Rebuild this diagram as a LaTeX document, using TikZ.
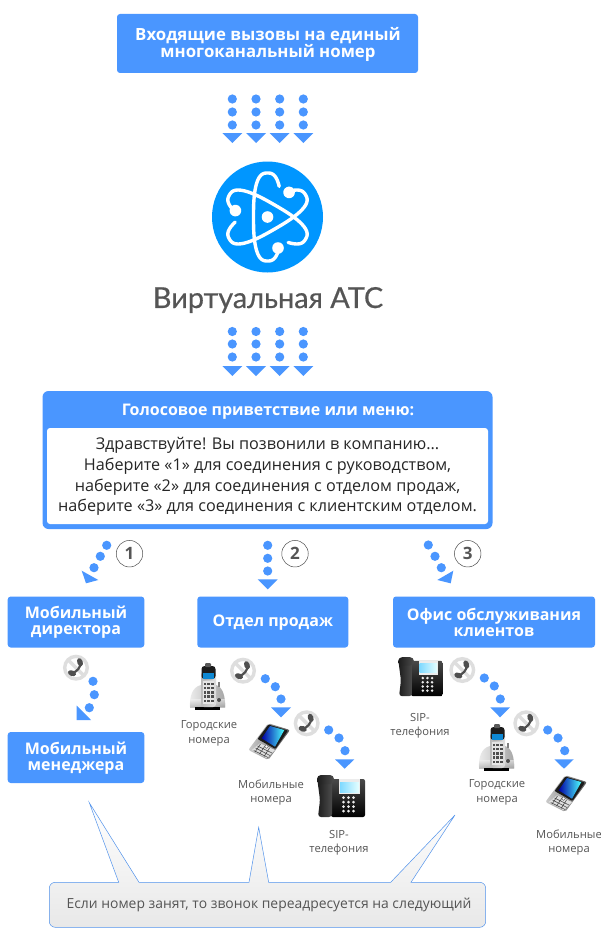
\documentclass[tikz,border=0pt]{standalone}
\usepackage{fontspec}
\setmainfont{Open Sans}
\newfontfamily\logofont[FakeBold=0.5]{Lato}
\definecolor{flowblue}{HTML}{4A96FF}
\definecolor{logoblue}{HTML}{0096FF}
\definecolor{inktext}{HTML}{262626}
\definecolor{greytext}{HTML}{555555}
\definecolor{ringgrey}{HTML}{DEDEDE}
\definecolor{iconink}{HTML}{4F4F4F}
\definecolor{phoneblack}{HTML}{1C1C1C}
\tikzset{
  x=1pt,y=-1pt,
  bluebox/.style={fill=flowblue,rounded corners=3pt,inner sep=0pt},
  boxlabel/.style={text=white,align=center,inner sep=0pt,font=\fontsize{16}{16}\selectfont\bfseries},
  greetline/.style={align=center,inner sep=0pt,text=inktext,font=\fontsize{16.2}{20.7}\selectfont},
  smalllabel/.style={align=center,inner sep=0pt,text=greytext,font=\fontsize{11.2}{14.5}\selectfont},
  numcircle/.style={circle,draw=iconink,line width=0.5pt,minimum size=26.5pt,inner sep=0pt,
     text=greytext,font=\fontsize{17}{17}\selectfont\bfseries},
  flow/.style={fill=flowblue},
  pics/busy/.style={code={
    \draw[ringgrey,line width=3.4pt,fill=white] (0,0) circle[radius=11.3pt];
    \draw[ringgrey,line width=3.4pt] (-8,-8) -- (8,8);
    \draw[iconink,line width=2.2pt] (4.5,-5) .. controls (4.5,0) and (1,4) .. (-4,5.5);
    \fill[iconink,rotate around={20:(4,-5.5)}] (4,-5.5) ellipse[x radius=2.8pt,y radius=4.2pt];
    \fill[iconink,rotate around={70:(-4,5.5)}] (-4,5.5) ellipse[x radius=2.8pt,y radius=4.2pt];
  }},
  pics/cordless/.style={code={
    \shade[left color=gray!15,right color=gray!70] (0,44) .. controls (-0.5,34) and (2,24) .. (11,22) -- (26,22)
       .. controls (33,24) and (35.5,34) .. (35,44) -- cycle;
    \shade[top color=gray!10,bottom color=gray!75,opacity=.6] (0,36) rectangle (35,44);
    \fill[black] (5,44) rectangle (30,47);
    \draw[gray,line width=1.2pt] (29,24) -- (29,19);
    \fill[iconink] (29,37) circle[radius=2pt];
    \shade[left color=gray!55,right color=gray!25,rounded corners=3pt] (11,9) rectangle (26,44);
    \fill[phoneblack,rounded corners=3pt] (11.5,3) rectangle (25.5,16);
    \fill[gray!70!black,rounded corners=1pt] (15,0) rectangle (21,4);
    \fill[cyan!70!blue] (13,10) rectangle (24,16);
    \fill[white!80!gray] (13,18) rectangle (24,41);
    \foreach \k in {0,1,2,3,4}{\foreach \j in {0,1,2}{\fill[iconink] (13.8+\j*3.6,19.5+\k*4.3) rectangle ++(2.6,2.4);}}
  }},
  pics/mobilephone/.style={code={
    \shade[left color=gray!40,right color=gray!70!black,rounded corners=2pt] (20.3,3.3) -- (42,10) -- (20.3,40) -- (0.3,30) -- cycle;
    \fill[phoneblack,rounded corners=1pt] (20.5,4.5) -- (40,10.5) -- (27.5,29) -- (9.5,19) -- cycle;
    \shade[left color=blue!65!black,right color=cyan!70!white] (22,6) -- (36.3,10) -- (27,26.7) -- (13.7,18.3) -- cycle;
    \fill[gray!25] (12,23.3) -- (27,30) -- (18.7,38.3) -- (3.7,30) -- cycle;
    \draw[gray!60!black,line width=0.6pt] (9.5,26) -- (24,33) (7.5,28) -- (22,35.5) (5.8,30.5) -- (20,37.5) (12.5,24) -- (7,32) (17,26) -- (11.5,34) (21.5,28) -- (16,36.5);
    \fill[white,draw=gray!60!black,line width=.4pt] (18.5,26.5) circle[radius=1.8pt];
  }},
  pics/deskphone/.style={code={
    \shade[top color=phoneblack!80,bottom color=black,rounded corners=2pt] (19,9) rectangle (53,47);
    \shade[left color=phoneblack,right color=gray!60!black,rounded corners=3pt] (5,7) -- (20,7) -- (20,47) -- (6,47) -- (8,30) -- cycle;
    \shade[left color=phoneblack,right color=gray!60!black,rounded corners=4pt] (5,5) rectangle (22,14);
    \fill[white!85!gray] (27,9) rectangle (48,24);
    \shade[left color=blue!30!cyan!50!white,right color=cyan!10!white] (28,12) rectangle (47,22);
    \foreach \k in {0,1,2,3}{\foreach \j in {0,1,2}{\fill[white!85!gray] (31.5+\j*5,27.5+\k*4.5) circle[radius=1.5pt];}}
  }},
  pics/orbit/.style={code={
    \draw[white,line width=3.4pt,line cap=round] plot[domain=-224:52,samples=90]
      ({44*sign(cos(\x))*(abs(cos(\x))+0.0001)^0.75},{14*sign(sin(\x))*(abs(sin(\x))+0.0001)^0.75});
    \fill[white] (-31,10.5) circle[radius=5.8pt];
  }},
}
\newcommand{\dotflow}[6]{%
  \fill[flow] #1 circle[radius=4.6pt] #2 circle[radius=4.6pt] #3 circle[radius=4.6pt];
  \fill[flow] #4 -- #5 -- #6 -- cycle;}
\begin{document}
\begin{tikzpicture}
\path[use as bounding box,fill=white] (0,0) rectangle (600,942);

% top box
\node[bluebox,minimum width=301pt,minimum height=59pt] (incoming) at (267.5,43.5) {};
\node[boxlabel,font=\fontsize{16.8}{16.5}\selectfont\bfseries] (incomingtext) at (268,44.5) {Входящие вызовы на единый\\многоканальный номер};

\foreach \x in {232.3,256,279.7,303.3}{
  \dotflow{(\x,99)}{(\x,112)}{(\x,125)}{(\x-10,133)}{(\x+10,133)}{(\x,143)}
  \dotflow{(\x,331.5)}{(\x,344)}{(\x,357)}{(\x-10,366)}{(\x+10,366)}{(\x,376)}
}

% logo
\node[circle,fill=logoblue,minimum size=111pt,inner sep=0pt] (logo) at (267.5,217) {};
\foreach \r in {90,210,-30}{
  \pic[shift={(logo.center)},rotate=\r] {orbit};
}
\fill[white] (logo.center) circle[radius=5.8pt];
\node[inner sep=0pt,text=greytext,font=\fontsize{28.9}{28}\selectfont\logofont] (brand) at (268,300) {Виртуальная АТС};

% greeting
\node[fill=flowblue,rounded corners=6pt,minimum width=450pt,minimum height=138pt,inner sep=0pt] (menu) at (267.5,460) {};
\node[fill=white,rounded corners=3pt,minimum width=441pt,minimum height=96pt,inner sep=0pt] (menutext) at (267.5,476) {};
\node[boxlabel] (menutitle) at (268,411.5) {Голосовое приветствие или меню:};
\node[greetline] (menulines) at (267.5,476.5) {Здравствуйте! Вы позвонили в компанию...\\
Наберите «1» для соединения с руководством,\\
наберите «2» для соединения с отделом продаж,\\
наберите «3» для соединения с клиентским отделом.};

% numbered branches
\dotflow{(106.7,545.3)}{(100.3,556.3)}{(94,567.7)}{(81.7,570.7)}{(98.3,580)}{(86,583.3)}
\dotflow{(267.7,545.3)}{(267.7,558.3)}{(267.7,571)}{(257.7,579.3)}{(277.7,579.3)}{(267.7,589.3)}
\dotflow{(428.3,545)}{(435,556.3)}{(441.3,567.7)}{(453.3,570.7)}{(437.3,580)}{(450.7,583.3)}
\node[numcircle] (n1) at (129.5,553.7) {1};
\node[numcircle] (n2) at (295,553.7) {2};
\node[numcircle] (n3) at (467.7,553.7) {3};

% department boxes
\node[bluebox,minimum width=136.6pt,minimum height=51pt] (director) at (76,622) {};
\node[boxlabel] (directortext) at (76,622.5) {Мобильный\\директора};
\node[bluebox,minimum width=151pt,minimum height=51pt] (sales) at (272.8,622) {};
\node[boxlabel] (salestext) at (272.8,622.5) {Отдел продаж};
\node[bluebox,minimum width=202pt,minimum height=51pt] (office) at (494,622) {};
\node[boxlabel] (officetext) at (494,622.5) {Офис обслуживания\\клиентов};
\node[bluebox,minimum width=136.6pt,minimum height=51pt] (manager) at (76,757.5) {};
\node[boxlabel] (managertext) at (76,758) {Мобильный\\менеджера};

% left column
\pic (busyA) at (76,667.7) {busy};
\dotflow{(93,681.3)}{(94.3,694.7)}{(89.3,707.7)}{(76.7,705.5)}{(91,720)}{(76.7,720)}

% sales column
\pic (homeA) at (190,663) {cordless};
\node[smalllabel] (homeAt) at (209,733.5) {Городские\\номера};
\pic (busyB) at (243,670.7) {busy};
\dotflow{(265.3,678.7)}{(275.3,686.7)}{(281,699)}{(271,707.3)}{(291,707.3)}{(281,717.3)}
\pic (mobA) at (248,720) {mobilephone};
\node[smalllabel] (mobAt) at (271,792.5) {Мобильные\\номера};
\pic (busyC) at (306.7,723.3) {busy};
\dotflow{(328.7,730)}{(339,738)}{(345,750.7)}{(335,759.3)}{(354.3,759.3)}{(344.7,768.7)}
\pic (sipA) at (312,770) {deskphone};
\node[smalllabel] (sipAt) at (339,843) {SIP-\\телефония};

% office column
\pic[scale=.93] (sipB) at (393.5,652.5) {deskphone};
\node[smalllabel] (sipBt) at (420,726) {SIP-\\телефония};
\pic (busyD) at (462.3,670) {busy};
\dotflow{(484.3,678)}{(494.3,686)}{(500.3,699)}{(490.3,707.3)}{(510,707.3)}{(500,717.3)}
\pic (homeB) at (479,724) {cordless};
\node[smalllabel] (homeBt) at (497,792.5) {Городские\\номера};
\pic (busyE) at (526.3,723.3) {busy};
\dotflow{(547.7,730)}{(558,738)}{(564.7,750.7)}{(554.3,759.3)}{(573.7,759.3)}{(564,768.7)}
\pic (mobB) at (545,772) {mobilephone};
\node[smalllabel] (mobBt) at (569,842.5) {Мобильные\\номера};

% callout
\shade[top color=white,bottom color=black!9,draw=flowblue!85!gray,line width=0.5pt]
  (55.3,882.3) -- (118.7,882.3) -- (89.3,802.7) -- (139,882.3)
  -- (249,882.3) -- (258.7,827.3) -- (268.7,882.3)
  -- (390.7,882.3) -- (455,815) -- (411,882.3)
  -- (479.7,882.3) arc[start angle=90,end angle=0,radius=6pt]
  -- (485.7,921.3) arc[start angle=0,end angle=-90,radius=6pt]
  -- (55.3,927.3) arc[start angle=-90,end angle=-180,radius=6pt]
  -- (49.3,888.3) arc[start angle=180,end angle=90,radius=6pt] -- cycle;
\node[inner sep=0pt,text=greytext,font=\fontsize{13.9}{14}\selectfont] (note) at (269,905) {Если номер занят, то звонок переадресуется на следующий};
\end{tikzpicture}
\end{document}
